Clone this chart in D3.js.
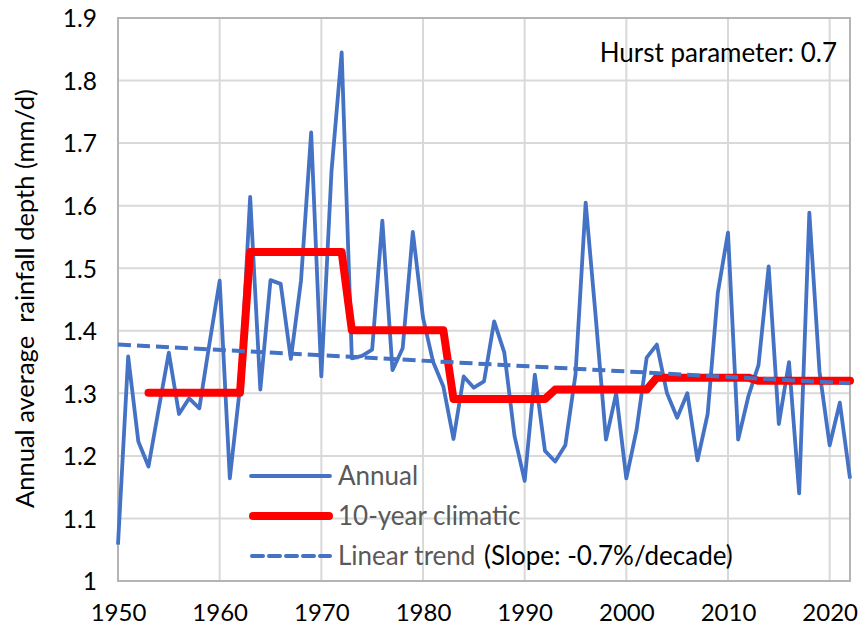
<!DOCTYPE html>
<html>
<head>
<meta charset="utf-8">
<script src="https://cdn.jsdelivr.net/npm/d3@7"></script>
<style>
  html, body { margin: 0; padding: 0; background: #fff; }
  svg { display: block; }
  text { font-family: Lato, "Open Sans", sans-serif; }
</style>
</head>
<body>
<svg id="chart" width="860" height="632"></svg>
<script>
// ---- Data ----
const years = d3.range(1950, 2023);
const annual = [
  1.058, 1.359, 1.223, 1.183, 1.275, 1.365, 1.267, 1.292, 1.276, 1.380,
  1.480, 1.164, 1.310, 1.614, 1.306, 1.481, 1.475, 1.355, 1.480, 1.717,
  1.327, 1.655, 1.845, 1.356, 1.360, 1.370, 1.576, 1.337, 1.372, 1.558,
  1.421, 1.350, 1.311, 1.227, 1.327, 1.309, 1.319, 1.415, 1.365, 1.232,
  1.160, 1.330, 1.208, 1.191, 1.217, 1.330, 1.605, 1.420, 1.226, 1.300,
  1.164, 1.241, 1.357, 1.378, 1.300, 1.261, 1.300, 1.193, 1.267, 1.461,
  1.557, 1.226, 1.295, 1.345, 1.503, 1.251, 1.350, 1.140, 1.589, 1.335,
  1.217, 1.285, 1.164
];
const climaticYears = d3.range(1953, 2023);
const climatic = [
  1.301, 1.301, 1.301, 1.301, 1.301, 1.301, 1.301, 1.301, 1.301, 1.301,
  1.526, 1.526, 1.526, 1.526, 1.526, 1.526, 1.526, 1.526, 1.526, 1.526,
  1.401, 1.401, 1.401, 1.401, 1.401, 1.401, 1.401, 1.401, 1.401, 1.401,
  1.291, 1.291, 1.291, 1.291, 1.291, 1.291, 1.291, 1.291, 1.291, 1.291,
  1.306, 1.306, 1.306, 1.306, 1.306, 1.306, 1.306, 1.306, 1.306, 1.306,
  1.325, 1.325, 1.325, 1.325, 1.325, 1.325, 1.325, 1.325, 1.325, 1.325,
  1.320, 1.320, 1.320, 1.320, 1.320, 1.320, 1.320, 1.320, 1.320, 1.320
];
const trendYears = [1950, 2022];
const trend = [1.378, 1.316];
const xTicks = [1950, 1960, 1970, 1980, 1990, 2000, 2010, 2020];
const yTicks = [1, 1.1, 1.2, 1.3, 1.4, 1.5, 1.6, 1.7, 1.8, 1.9];
const legendLabels = ["Annual", "10-year climatic", "Linear trend"];
const slopeNote = "(Slope: -0.7%/decade)";
const hurstNote = "Hurst parameter: 0.7";
const yTitle = "Annual average  rainfall depth (mm/d)";

// ---- Layout ----
const svg = d3.select("#chart");
const pL = 118, pR = 850, pT = 18, pB = 581;
const x = d3.scaleLinear().domain([1950, 2022]).range([pL, pR]);
const y = d3.scaleLinear().domain([1, 1.9]).range([pB, pT]);

const blue = "#4472C4", red = "#FF0000", grid = "#D9D9D9";
const fs = 26;

// gridlines
svg.append("g").selectAll("line").data(yTicks).join("line")
  .attr("x1", pL).attr("x2", pR)
  .attr("y1", d => y(d)).attr("y2", d => y(d))
  .attr("stroke", grid).attr("stroke-width", 2);
svg.append("g").selectAll("line").data(xTicks).join("line")
  .attr("x1", d => x(d)).attr("x2", d => x(d))
  .attr("y1", pT).attr("y2", pB)
  .attr("stroke", grid).attr("stroke-width", 2);

// plot border
svg.append("rect").attr("x", pL).attr("y", pT)
  .attr("width", pR - pL).attr("height", pB - pT)
  .attr("fill", "none").attr("stroke", "#B4B4B4").attr("stroke-width", 2);

// axes (labels only, via d3 axes)
const yAxis = svg.append("g").attr("transform", `translate(${pL - 18},0)`)
  .call(d3.axisLeft(y).tickValues(yTicks).tickSize(0).tickFormat(d3.format("~g")));
yAxis.select(".domain").remove();
yAxis.selectAll("text").attr("font-size", 24.5).attr("fill", "#000")
  .attr("font-family", "Lato, 'Open Sans', sans-serif").attr("dy", "0.36em");

const xAxis = svg.append("g").attr("transform", `translate(0,${pB})`)
  .call(d3.axisBottom(x).tickValues(xTicks).tickSize(0).tickFormat(d3.format("d")));
xAxis.select(".domain").remove();
xAxis.selectAll("text").attr("font-size", 24).attr("fill", "#000")
  .attr("font-family", "Lato, 'Open Sans', sans-serif").attr("y", 40).attr("dy", 0);

// y title
svg.append("text")
  .attr("transform", `translate(34,${(pT + pB) / 2 - 1}) rotate(-90)`)
  .attr("text-anchor", "middle").attr("font-size", 25.5).attr("fill", "#000")
  .style("white-space", "pre")
  .text(yTitle);

// series
const annualLine = d3.line().x((d, i) => x(years[i])).y(d => y(d));
const climLine = d3.line().x((d, i) => x(climaticYears[i])).y(d => y(d));
const trendLine = d3.line().x((d, i) => x(trendYears[i])).y(d => y(d));

svg.append("path").datum(annual).attr("d", annualLine)
  .attr("fill", "none").attr("stroke", blue).attr("stroke-width", 3.8)
  .attr("stroke-linejoin", "round");
svg.append("path").datum(climatic).attr("d", climLine)
  .attr("fill", "none").attr("stroke", red).attr("stroke-width", 8)
  .attr("stroke-linejoin", "round").attr("stroke-linecap", "round");
svg.append("path").datum(trend).attr("d", trendLine)
  .attr("fill", "none").attr("stroke", blue).attr("stroke-width", 4)
  .attr("stroke-dasharray", "13 6");

// legend
const legY = [476, 516, 556];
const lg = svg.append("g");
lg.append("line").attr("x1", 251).attr("x2", 330).attr("y1", legY[0]).attr("y2", legY[0])
  .attr("stroke", blue).attr("stroke-width", 3.8).attr("stroke-linecap", "round");
lg.append("line").attr("x1", 253).attr("x2", 329).attr("y1", legY[1]).attr("y2", legY[1])
  .attr("stroke", red).attr("stroke-width", 8).attr("stroke-linecap", "round");
lg.append("line").attr("x1", 252).attr("x2", 330).attr("y1", legY[2]).attr("y2", legY[2])
  .attr("stroke", blue).attr("stroke-width", 4).attr("stroke-dasharray", "11 6")
  .attr("stroke-linecap", "round");
lg.selectAll("text").data(legendLabels).join("text")
  .attr("x", 338).attr("y", (d, i) => legY[i]).attr("dy", "0.36em")
  .attr("font-size", 26).attr("fill", "#595959").text(d => d);

svg.append("text").attr("x", 484).attr("y", legY[2]).attr("dy", "0.36em")
  .attr("font-size", fs).attr("fill", "#000").text(slopeNote);
svg.append("text").attr("x", 837).attr("y", 53).attr("dy", "0.36em")
  .attr("text-anchor", "end").attr("font-size", fs).attr("fill", "#000").text(hurstNote);
</script>
</body>
</html>
